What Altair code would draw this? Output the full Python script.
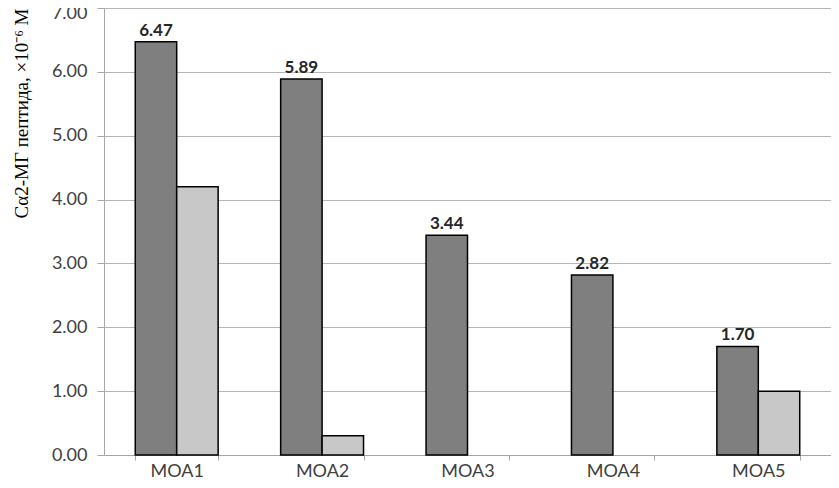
import altair as alt
import pandas as pd

categories = ["MOA1", "MOA2", "MOA3", "MOA4", "MOA5"]
series_a = [6.47, 5.89, 3.44, 2.82, 1.70]
series_b = [4.20, 0.30, 0.0, 0.0, 1.00]
y_ticks = [0, 1, 2, 3, 4, 5, 6, 7]
y_title = "Cα2-МГ пептида, ×10⁻⁶ М"

rows = []
for c, a, b in zip(categories, series_a, series_b):
    rows.append({"cat": c, "series": "A", "value": a})
    rows.append({"cat": c, "series": "B", "value": b})
df = pd.DataFrame(rows)

x_enc = alt.X(
    "cat:N", sort=categories,
    scale=alt.Scale(paddingInner=0.43, paddingOuter=0.215),
    axis=alt.Axis(title=None, labelAngle=0, tickBand="extent",
                  domainColor="#a6a6a6", tickColor="#a6a6a6", tickSize=5,
                  labelFont="Lato", labelFontSize=18, labelColor="#404040",
                  labelPadding=2, grid=False),
)
off_enc = alt.XOffset("series:N", scale=alt.Scale(domain=["A", "B"], paddingInner=0, paddingOuter=0))
y_enc = alt.Y(
    "value:Q", scale=alt.Scale(domain=[0, 7], nice=False),
    axis=alt.Axis(values=y_ticks, format=".2f", title=y_title,
                  titleFont="Liberation Serif", titleFontSize=19, titleFontWeight="normal",
                  titleColor="black", titleAnchor="end", titlePadding=20,
                  labelFont="Lato", labelFontSize=18, labelColor="#404040", labelPadding=10,
                  labelOffset={"condition": {"test": "datum.value == 7", "value": 5}, "value": 0},
                  domainColor="#a6a6a6", tickColor="#a6a6a6", tickSize=7,
                  gridColor="#b5b5b5", gridWidth=1),
)

bars = alt.Chart(df).mark_bar(stroke="black", strokeWidth=1.5).encode(
    x=x_enc, xOffset=off_enc, y=y_enc,
    fill=alt.Fill("series:N", scale=alt.Scale(domain=["A", "B"], range=["#7f7f7f", "#c8c8c8"]), legend=None),
).transform_filter("datum.value > 0")

labels = alt.Chart(df).mark_text(dy=-11, fontWeight="bold", fontSize=17, font="Lato", color="#262626").encode(
    x=x_enc, xOffset=off_enc, y=y_enc,
    text=alt.Text("value:Q", format=".2f"),
).transform_filter("datum.series == 'A'")

chart = alt.layer(bars, labels).properties(
    width=727, height=447,
    autosize=alt.AutoSizeParams(type="none"),
    padding={"left": 96, "top": 0, "right": 0, "bottom": 25},
).configure_view(stroke=None)

chart.save("out.html", embed_options={"renderer": "svg", "actions": False})
